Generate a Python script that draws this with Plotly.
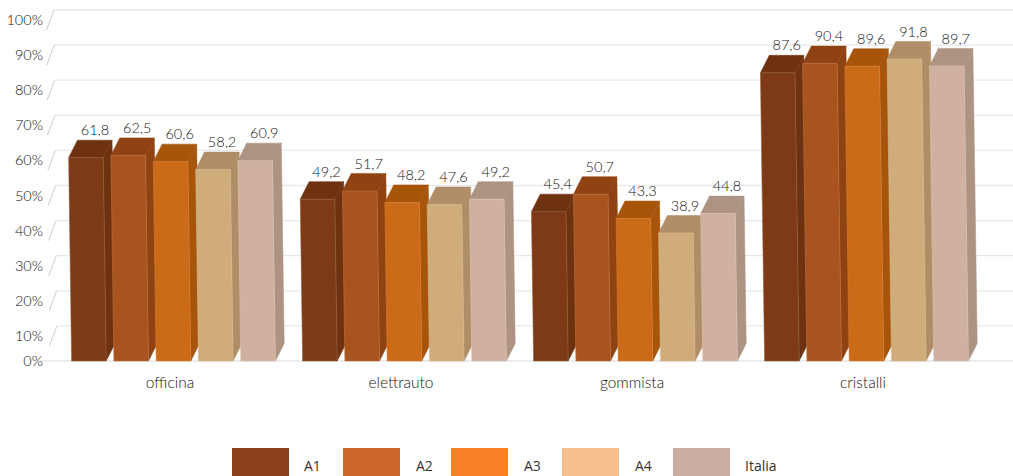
import plotly.graph_objects as go

# Data
categories = ["officina", "elettrauto", "gommista", "cristalli"]
series_names = ["A1", "A2", "A3", "A4", "Italia"]
a1 = [61.8, 49.2, 45.4, 87.6]
a2 = [62.5, 51.7, 50.7, 90.4]
a3 = [60.6, 48.2, 43.3, 89.6]
a4 = [58.2, 47.6, 38.9, 91.8]
italia = [60.9, 49.2, 44.8, 89.7]
percent_ticks = [0, 10, 20, 30, 40, 50, 60, 70, 80, 90, 100]

series_values = [a1, a2, a3, a4, italia]
front_colors = ["#7E3A17", "#A9541E", "#CB6A17", "#D0AC7B", "#D0B09E"]
side_colors = ["#6F3210", "#8F4312", "#A6550B", "#AF8D66", "#AD9382"]
edge_colors = ["#94623F", "#BC7240", "#D5803A", "#D8BA90", "#DBC3B4"]
legend_colors = ["#8B411C", "#CC6528", "#F98024", "#F6BF8D", "#CBAEA2"]

# Canvas and scale setup: the axes fill the page, so depth effects can be given in pixels
WIDTH, HEIGHT = 1013, 476
BASE_PX = 361           # vertical pixel of the zero line
UNIT_PX = 3.29          # pixels per percentage point on the bar plane
WALL_PX = 3.51          # pixels per percentage point on the back wall
GROUP_PX = 231          # distance between category centres
FIRST_GROUP_PX = 170    # pixel position of the first category label
SERIES_STEP = 42.3 / GROUP_PX
BAR_W = 34.6 / GROUP_PX
GROUP_SHIFT = 3.5 / GROUP_PX
DEPTH_X = 8.8 / GROUP_PX
DEPTH_Y = 17.5 / UNIT_PX
LEAN = 0.0145 * UNIT_PX / GROUP_PX  # bars lean slightly left with height
WALL_RATIO = WALL_PX / UNIT_PX

LIGHT_TEXT = dict(family="Lato", color="#141414", weight=300)

x_range = [-FIRST_GROUP_PX / GROUP_PX, (WIDTH - FIRST_GROUP_PX) / GROUP_PX]
y_range = [-(HEIGHT - BASE_PX) / UNIT_PX, BASE_PX / UNIT_PX]


def poly_trace(xs, ys, fill, line_color, line_width):
    return go.Scatter(
        x=xs, y=ys, mode="lines", fill="toself", fillcolor=fill,
        line=dict(color=line_color, width=line_width),
        hoverinfo="skip", showlegend=False,
    )


fig = go.Figure()

# Back wall: each level has a short slanted stub followed by a horizontal rule
x_to_units = lambda px: (px - FIRST_GROUP_PX) / GROUP_PX
for tick in percent_ticks[1:]:
    level = tick * WALL_RATIO
    start = x_to_units(57.3) - tick * 0.0335 / GROUP_PX
    fig.add_trace(go.Scatter(
        x=[start, x_range[1]], y=[level, level], mode="lines",
        line=dict(color="#E9E9E9", width=1.3), hoverinfo="skip", showlegend=False,
    ))
    fig.add_trace(go.Scatter(
        x=[start - 7.5 / GROUP_PX, start], y=[level - 20 / UNIT_PX, level], mode="lines",
        line=dict(color="#BDBDBD", width=0.8), hoverinfo="skip", showlegend=False,
    ))
fig.add_trace(go.Scatter(
    x=[x_to_units(40), x_range[1]], y=[0, 0], mode="lines",
    line=dict(color="#E6E6E6", width=1.3), hoverinfo="skip", showlegend=False,
))

# Pseudo-3D columns, painted left to right so that each one covers its neighbour's side
for g in range(len(categories)):
    for s, values in enumerate(series_values):
        v = values[g]
        centre = g + (s - 2) * SERIES_STEP + GROUP_SHIFT
        left0, right0 = centre - BAR_W / 2, centre + BAR_W / 2
        left1, right1 = left0 - v * LEAN, right0 - v * LEAN

        # side face
        fig.add_trace(poly_trace(
            [right0, right1, right1 + DEPTH_X, right0 + DEPTH_X, right0],
            [0, v, v + DEPTH_Y, DEPTH_Y, 0],
            side_colors[s], side_colors[s], 0.5,
        ))
        # top face
        fig.add_trace(poly_trace(
            [left1, right1, right1 + DEPTH_X, left1 + DEPTH_X, left1],
            [v, v, v + DEPTH_Y, v + DEPTH_Y, v],
            side_colors[s], side_colors[s], 0.5,
        ))
        # front face
        fig.add_trace(poly_trace(
            [left0, right0, right1, left1, left0],
            [0, 0, v, v, 0],
            front_colors[s], edge_colors[s], 0.6,
        ))

# Value labels above each column
for s, values in enumerate(series_values):
    xs = [g + (s - 2) * SERIES_STEP + GROUP_SHIFT - v * LEAN + 9 / GROUP_PX
          for g, v in enumerate(values)]
    ys = [v + DEPTH_Y + 8.5 / UNIT_PX for v in values]
    fig.add_trace(go.Scatter(
        x=xs, y=ys, mode="text",
        text=[f"{v:.1f}".replace(".", ",") for v in values],
        textposition="middle center",
        textfont=dict(size=14.5, **LIGHT_TEXT),
        hoverinfo="skip", showlegend=False,
    ))

# Legend swatches and captions sit along the bottom of the page
swatch_edges = [(232, 289), (343, 400), (451, 508), (562, 619), (673, 730)]
caption_centres = [312.5, 424.5, 532.5, 643, 761]
shapes = []
annotations = []
for s, name in enumerate(series_names):
    x0, x1 = swatch_edges[s]
    shapes.append(dict(
        type="rect", xref="paper", yref="paper",
        x0=x0 / WIDTH, x1=x1 / WIDTH, y0=0, y1=(HEIGHT - 448) / HEIGHT,
        fillcolor=legend_colors[s], line=dict(width=0),
    ))
    annotations.append(dict(
        xref="paper", yref="paper", x=caption_centres[s] / WIDTH,
        y=(HEIGHT - 465) / HEIGHT, text=name, showarrow=False,
        xanchor="center", yanchor="middle",
        font=dict(family="Open Sans", size=14, color="#333333"),
    ))

# Percent labels hang below their wall level; the zero label stays on the base line
label_positions = [0 if t == 0 else t * WALL_RATIO - 10 / UNIT_PX for t in percent_ticks]

fig.update_layout(
    width=WIDTH, height=HEIGHT,
    margin=dict(l=0, r=0, t=0, b=0),
    paper_bgcolor="white", plot_bgcolor="white",
    showlegend=False,
    shapes=shapes, annotations=annotations,
    xaxis=dict(
        range=x_range, domain=[0, 1], tickmode="array",
        tickvals=list(range(len(categories))), ticktext=categories,
        showgrid=False, zeroline=False, showline=False,
        anchor="free", position=(HEIGHT - BASE_PX) / HEIGHT,
        ticks="outside", ticklen=7, tickcolor="rgba(0,0,0,0)",
        tickfont=dict(size=15.5, **LIGHT_TEXT),
        fixedrange=True,
    ),
    yaxis=dict(
        range=y_range, domain=[0, 1], tickmode="array",
        tickvals=label_positions, ticktext=[f"{t}%" for t in percent_ticks],
        showgrid=False, zeroline=False, showline=False,
        anchor="free", position=43 / WIDTH, ticks="",
        tickfont=dict(size=14.5, **LIGHT_TEXT),
        fixedrange=True,
    ),
)

fig.write_html("out.html", config={"displayModeBar": False})
